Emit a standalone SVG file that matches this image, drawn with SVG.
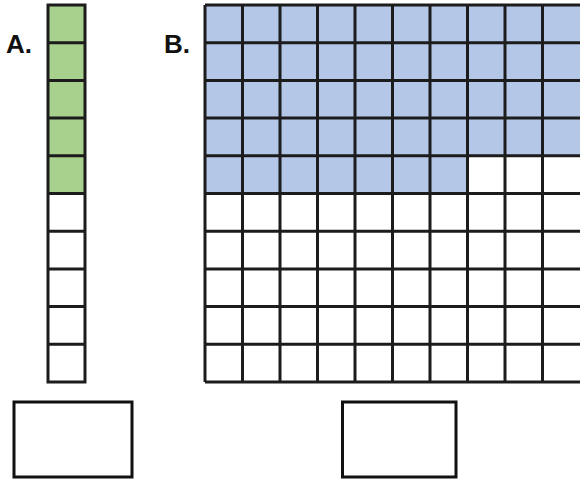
<svg xmlns="http://www.w3.org/2000/svg" width="580" height="479" viewBox="0 0 580 479">
<defs>
<style>
.g{fill:#a9d18e}
.b{fill:#b4c7e7}
.ln{stroke:#1c1c1c;stroke-width:3;fill:none}
.box{stroke:#111;stroke-width:3;fill:#fff}
.lbl{font-family:"Liberation Sans",Arial,sans-serif;font-weight:bold;font-size:26px;fill:#111}
</style>
</defs>
<rect width="580" height="479" fill="#fff"/>
<g id="labelA"><text class="lbl" x="6" y="53">A.</text></g>
<g id="labelB"><text class="lbl" x="164" y="53">B.</text></g>
<g id="gridA">
<rect class="g" x="48" y="5" width="37" height="188.5"/>
<path class="ln" d="M48,5H85V382H48Z M48,42.7H85 M48,80.4H85 M48,118.1H85 M48,155.8H85 M48,193.5H85 M48,231.2H85 M48,268.9H85 M48,306.6H85 M48,344.3H85"/>
</g>
<g id="gridB">
<rect class="b" x="205" y="5" width="376" height="150.8"/>
<rect class="b" x="205" y="155.8" width="262.5" height="37.7"/>
<path class="ln" d="M205,5H582 M205,382H582 M205,5V382
M205,42.7H582 M205,80.4H582 M205,118.1H582 M205,155.8H582 M205,193.5H582 M205,231.2H582 M205,268.9H582 M205,306.6H582 M205,344.3H582
M242.5,5V382 M280,5V382 M317.5,5V382 M355,5V382 M392.5,5V382 M430,5V382 M467.5,5V382 M505,5V382 M542.5,5V382"/>
</g>
<g id="boxA"><rect class="box" x="14" y="402" width="118" height="75"/></g>
<g id="boxB"><rect class="box" x="342.5" y="402" width="113.5" height="75"/></g>
</svg>
